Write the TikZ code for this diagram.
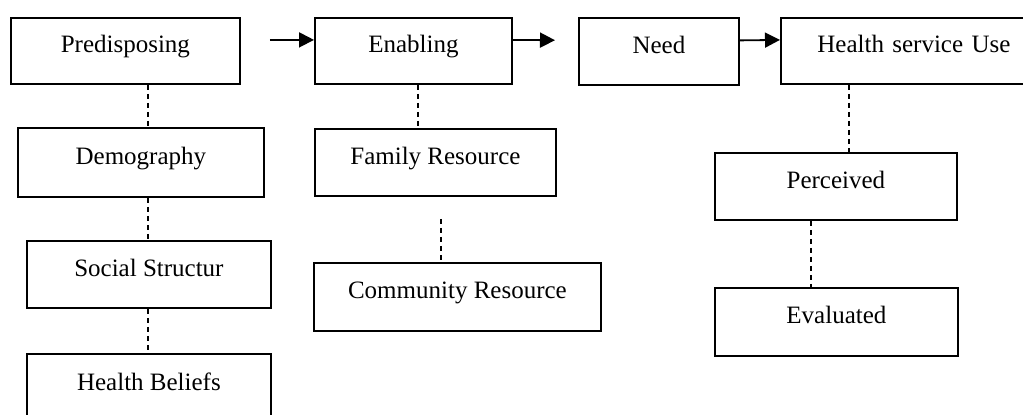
\documentclass[tikz,border=0pt]{standalone}
\usepackage{fontspec}
\setmainfont{Liberation Serif}
\usetikzlibrary{arrows.meta,calc}
\tikzset{
  box/.style={draw=black, line width=1.8pt, anchor=north west, inner sep=0pt,
    font=\fontsize{25}{28}\selectfont, text height=20pt, text depth=16pt},
  link/.style={draw=black, line width=2.6pt, dash pattern=on 5pt off 4pt},
  flow/.style={draw=black, line width=1.8pt, -{Triangle[length=15pt,width=15pt]}}
}
\begin{document}
\begin{tikzpicture}[x=1pt,y=-1pt]
\useasboundingbox (0,0) rectangle (1023,415);
\clip (0,0) rectangle (1023,415);
% top row
\node[box, minimum width=229pt, minimum height=66pt] (pred) at (10,17) {Predisposing};
\node[box, minimum width=197pt, minimum height=66pt] (enab) at (314,17) {Enabling};
\node[box, minimum width=160pt, minimum height=67pt] (need) at (578,17) {Need};
\node[box, minimum width=250pt, minimum height=66pt, text width=250pt, align=center] (hsu) at (780,17) {\hspace*{16pt}Health service Use};
% predisposing column
\node[box, minimum width=246pt, minimum height=69pt] (demo) at (17,127) {Demography};
\node[box, minimum width=244pt, minimum height=67pt] (soc) at (26,240) {Social Structur};
\node[box, minimum width=244pt, minimum height=69pt] (hb) at (26,353) {Health Beliefs};
% enabling column
\node[box, minimum width=241pt, minimum height=67pt] (fam) at (314,128) {Family Resource};
\node[box, minimum width=287pt, minimum height=68pt] (com) at (313,262) {Community Resource};
% health service use column
\node[box, minimum width=242pt, minimum height=67pt] (perc) at (714,152) {Perceived};
\node[box, minimum width=243pt, minimum height=68pt] (eval) at (714,287) {Evaluated};
% arrows
\draw[flow, shorten <=29pt] ([yshift=11pt]pred.east) -- ([yshift=11pt]enab.west);
\draw[flow, shorten >=23pt] ([yshift=11pt]enab.east) -- ([yshift=11pt]need.west);
\draw[flow] ([yshift=11pt]need.east) -- ([yshift=11pt]hsu.west);
% dashed links
\draw[link] ([xshift=138pt]pred.south west) -- ([xshift=131pt]demo.north west);
\draw[link] ([xshift=131pt]demo.south west) -- ([xshift=122pt]soc.north west);
\draw[link] ([xshift=122pt]soc.south west) -- ([xshift=122pt]hb.north west);
\draw[link] ([xshift=104pt]enab.south west) -- ([xshift=104pt]fam.north west);
\draw[link, shorten <=22pt] ([xshift=127pt]fam.south west) -- ([xshift=128pt]com.north west);
\draw[link] ([xshift=69pt]hsu.south west) -- ([xshift=135pt]perc.north west);
\draw[link] ([xshift=97pt]perc.south west) -- ([xshift=97pt]eval.north west);
\end{tikzpicture}
\end{document}
